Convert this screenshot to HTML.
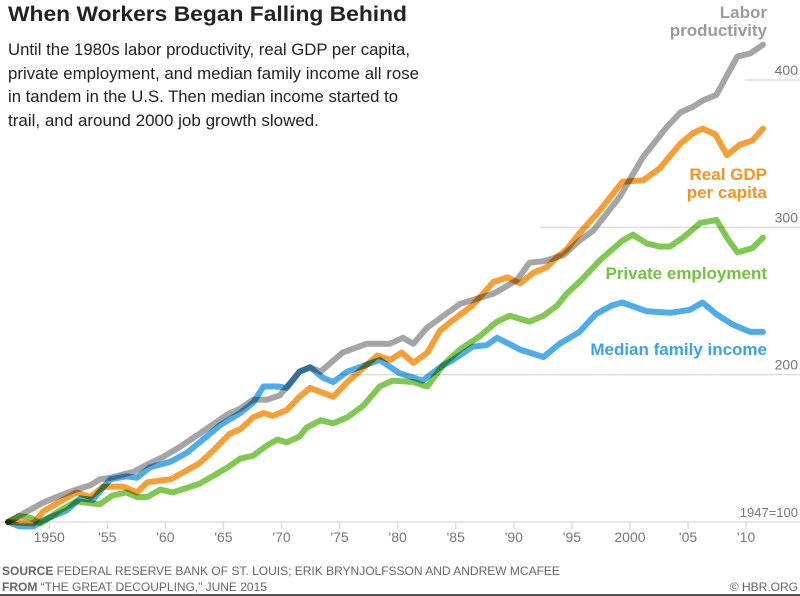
<!DOCTYPE html>
<html><head><meta charset="utf-8"><style>
html,body{margin:0;padding:0;background:#fff;}
svg{display:block;font-family:"Liberation Sans",sans-serif;}
</style></head><body>
<svg id="chart" width="800" height="596" viewBox="0 0 800 596" xmlns="http://www.w3.org/2000/svg">
<text x="8" y="21" font-size="21" font-weight="bold" fill="#222" textLength="399" lengthAdjust="spacingAndGlyphs">When Workers Began Falling Behind</text>
<g font-size="17" fill="#222">
<text x="8" y="55" textLength="402" lengthAdjust="spacingAndGlyphs">Until the 1980s labor productivity, real GDP per capita,</text>
<text x="8" y="79" textLength="411" lengthAdjust="spacingAndGlyphs">private employment, and median family income all rose</text>
<text x="8" y="102" textLength="390" lengthAdjust="spacingAndGlyphs">in tandem in the U.S. Then median income started to</text>
<text x="8" y="126" textLength="311" lengthAdjust="spacingAndGlyphs">trail, and around 2000 job growth slowed.</text>
</g>
<g id="grid"></g>
<g id="axis"></g>
<g id="series"></g>
<g font-size="17" font-weight="bold" text-anchor="end">
<text x="767" y="18" fill="#9b9b9b">Labor</text>
<text x="767" y="36" fill="#9b9b9b">productivity</text>
<text x="767" y="180" fill="#f7941d">Real GDP</text>
<text x="767" y="198" fill="#f7941d">per capita</text>
<text x="767" y="279" fill="#72c23e">Private employment</text>
<text x="767" y="355" fill="#3aa3e8">Median family income</text>
</g>
<text x="798" y="517" font-size="13" fill="#777" text-anchor="end">1947=100</text>
<g font-size="12" fill="#666">
<text x="2" y="575"><tspan font-weight="bold">SOURCE</tspan> FEDERAL RESERVE BANK OF ST. LOUIS; ERIK BRYNJOLFSSON AND ANDREW MCAFEE</text>
<text x="2" y="591"><tspan font-weight="bold">FROM</tspan> “THE GREAT DECOUPLING,” JUNE 2015</text>
<text x="798" y="591" text-anchor="end">© HBR.ORG</text>
</g>
<rect x="0" y="594" width="800" height="2" fill="#555"/>
</svg>
<script>
const xTickLabels = ["1950","'55","'60","'65","'70","'75","'80","'85","'90","'95","2000","'05","'10"];
const xTickYears = [1950,1955,1960,1965,1970,1975,1980,1985,1990,1995,2000,2005,2010];
const yTickValues = [200,300,400];
const yTickLabels = ["200","300","400"];
const prodYears = [1947,1950,1951.5,1952.9,1954.1,1954.9,1955.8,1957.8,1959,1960.3,1961.8,1963.5,1965.9,1967,1968.1,1969.3,1970.4,1972.1,1973,1973.9,1975.8,1977.9,1979.9,1981,1981.9,1983.1,1985.9,1988.8,1990.8,1991.9,1993.1,1994.8,1996.2,1997.4,1999.7,2001.7,2003.7,2004.9,2006,2006.8,2008,2009.8,2010.9,2012];
const prodValues = [100,113,118,122,125,129,130,134,139,144,151,160,173,177,183,183,186,202,205,202,215,221,221,225,221,232,248,255,264,276,277,281,291,298,321,348,368,378,382,386,390,416,418,424];
const gdpYears = [1947,1949.2,1950,1951.5,1952.9,1954.1,1955.2,1956.9,1958.1,1959,1961,1962.4,1963.5,1964.6,1966.1,1967,1968.1,1969,1969.8,1971,1972.1,1973,1975,1976.2,1978.8,1979.9,1980.9,1981.9,1983.1,1984.2,1985.3,1987,1988.8,1990,1991.1,1992.2,1993.4,1994.3,1995.1,1996.2,1998,1999.9,2001.7,2003.1,2004.9,2006,2006.8,2007.9,2008.9,2010,2011.1,2012];
const gdpValues = [100,99,107,114,120,117,124,124,120,127,129,135,140,148,160,163,171,174,172,176,185,191,185,195,213,210,215,208,215,230,237,247,263,266,262,269,273,280,285,296,312,331,332,340,357,364,367,363,349,356,359,367];
const empYears = [1947,1948,1948.9,1949.8,1951.5,1952.9,1953.8,1954.9,1956,1957.2,1958.1,1959,1960.1,1961.2,1963.5,1964.6,1965.9,1967,1968.1,1969.3,1970.2,1971,1972.1,1972.7,1973.9,1975,1976.2,1977.6,1979,1980.1,1981.9,1983.1,1984.5,1985.9,1987.6,1989.1,1990.2,1991.9,1993.1,1994.3,1995.1,1996.2,1998,1999.9,2000.8,2002,2003.1,2004,2005.1,2006.6,2008,2008.9,2009.8,2011.1,2012];
const empValues = [100,104,103,99,108,114,113,112,118,120,117,117,122,120,126,131,137,143,145,152,156,154,158,164,169,167,171,179,192,196,195,192,207,217,226,236,240,236,240,247,255,263,278,291,295,289,287,287,293,303,305,293,283,286,293];
const incYears = [1947,1948,1949.2,1950,1952.1,1953.2,1954.3,1955.8,1957.2,1958.1,1959.2,1961,1962.4,1964.1,1965.3,1967,1968.1,1969,1970.2,1971,1972.1,1973,1974.1,1975,1976.2,1979,1980.7,1982.7,1984.2,1985.3,1987,1988.2,1989.1,1991.1,1991.9,1993.1,1994.5,1996.2,1997.6,1999,1999.9,2002,2004,2005.7,2006.8,2008,2009.4,2010.9,2012];
const incValues = [100,97,97,101,108,116,115,129,131,130,137,141,147,158,166,174,181,192,192,191,202,205,198,195,202,210,201,196,205,210,219,220,225,217,215,212,221,229,241,247,249,243,242,244,249,241,234,229,229];

const NS = "http://www.w3.org/2000/svg";
function xScale(yr){ return 8 + (yr - 1947) * 11.615; }
function yScale(v){ return 522 - (v - 100) * 1.4733; }

const grid = document.getElementById('grid');
const gridStarts = {200:340, 300:540, 400:745};
yTickValues.forEach((v,i)=>{
  const l = document.createElementNS(NS,'line');
  
  
  l.setAttribute('x1', gridStarts[v] || 0); l.setAttribute('x2', 800);
  l.setAttribute('y1', yScale(v)); l.setAttribute('y2', yScale(v));
  l.setAttribute('stroke','#ddd'); l.setAttribute('stroke-width','1.5');
  grid.appendChild(l);
  const t = document.createElementNS(NS,'text');
  
  
  t.setAttribute('x', 798); t.setAttribute('y', yScale(v) - 5);
  t.setAttribute('text-anchor','end'); t.setAttribute('font-size','14'); t.setAttribute('fill','#777');
  t.textContent = yTickLabels[i];
  grid.appendChild(t);
});

const axis = document.getElementById('axis');
const base = document.createElementNS(NS,'line');


base.setAttribute('x1',0); base.setAttribute('x2',800);
base.setAttribute('y1',522); base.setAttribute('y2',522);
base.setAttribute('stroke','#ddd'); base.setAttribute('stroke-width','1.5');
axis.appendChild(base);
xTickYears.forEach((yr,i)=>{
  const x = xScale(yr + 0.55);
  const tk = document.createElementNS(NS,'line');
  
  
  tk.setAttribute('x1',x); tk.setAttribute('x2',x);
  tk.setAttribute('y1',522); tk.setAttribute('y2',529);
  tk.setAttribute('stroke','#ddd'); tk.setAttribute('stroke-width','1.5');
  axis.appendChild(tk);
  const t = document.createElementNS(NS,'text');
  
  
  t.setAttribute('x',x); t.setAttribute('y',542);
  t.setAttribute('text-anchor','middle'); t.setAttribute('font-size','14'); t.setAttribute('fill','#777');
  t.textContent = xTickLabels[i];
  axis.appendChild(t);
});

const series = document.getElementById('series');
function drawLine(years, values, color, name){
  const p = document.createElementNS(NS,'path');
  
  
  let d = '';
  years.forEach((yr,i)=>{ d += (i? 'L':'M') + xScale(yr).toFixed(1) + ',' + yScale(values[i]).toFixed(1); });
  p.setAttribute('d', d);
  p.setAttribute('fill','none'); p.setAttribute('stroke', color);
  p.setAttribute('stroke-width','6'); p.setAttribute('stroke-linejoin','round'); p.setAttribute('stroke-linecap','round');
  p.setAttribute('opacity','0.9');
  p.style.mixBlendMode = 'multiply';
  series.appendChild(p);
}
drawLine(empYears, empValues, '#72c23e', 'line-private-employment');
drawLine(gdpYears, gdpValues, '#f7941d', 'line-real-gdp-per-capita');
drawLine(incYears, incValues, '#3aa3e8', 'line-median-family-income');
drawLine(prodYears, prodValues, '#9b9b9b', 'line-labor-productivity');
</script>
</body></html>
